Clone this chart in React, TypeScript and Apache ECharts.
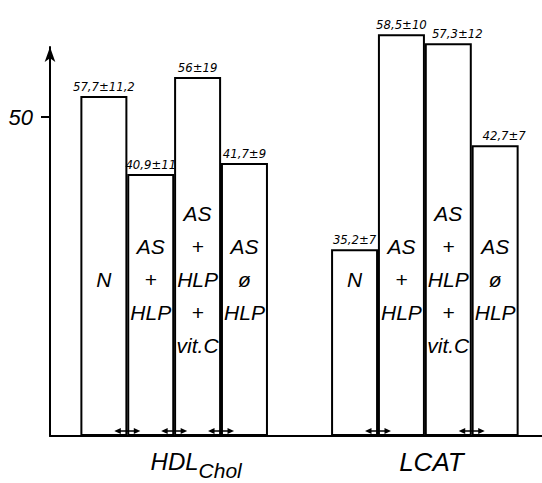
import React, { useEffect, useRef } from "react";
import * as echarts from "echarts";

// ---- data ----
const GROUPS = ["HDL", "LCAT"];
const GROUP_SUB = ["Chol", ""];
const TREATMENTS = ["N", "AS\n+\nHLP", "AS\n+\nHLP\n+\nvit.C", "AS\nø\nHLP"];
// reported mean ± SD (text above each bar)
const HDL_MEAN = [57.7, 40.9, 56, 41.7];
const HDL_SD = [11.2, 11, 19, 9];
const LCAT_MEAN = [35.2, 58.5, 57.3, 42.7];
const LCAT_SD = [7, 10, 12, 7];
const HDL_BAR = [53.3, 41.1, 56.3, 42.8];
const LCAT_BAR = [29.3, 63.0, 61.6, 45.6];
// significance markers: [group index, left bar index]
const SIG_MARKS: [number, number][] = [
  [0, 0],
  [0, 1],
  [0, 2],
  [1, 0],
  [1, 2],
];
const Y_TICKS = [50];

// ---- layout ----
const GROUP_START = [1.15, 6.5];
const GROUP_LABEL_AT = [3.12, 8.14];
const INNER_LABEL_Y = 24.6;
const MARK_Y = 0.8;
const TOP_LABEL_SHIFT = [
  [0, 0, 0, 0],
  [0, 0, 9, 9],
];

const fmt = (v: number) => String(v).replace(".", ",");

export default function App() {
  const ref = useRef<HTMLDivElement>(null);
  useEffect(() => {
    if (!ref.current) return;
    const chart = echarts.init(ref.current, null, { renderer: "svg" });
    const means = [HDL_MEAN, LCAT_MEAN];
    const sds = [HDL_SD, LCAT_SD];
    const heights = [HDL_BAR, LCAT_BAR];

    const barData: any[] = [];
    const textData: any[] = [];
    GROUPS.forEach((_, g) => {
      heights[g].forEach((h, i) => {
        const x = GROUP_START[g] + i;
        barData.push({
          value: [x, h],
          label: {
            formatter: `${fmt(means[g][i])}±${fmt(sds[g][i])}`,
            offset: [TOP_LABEL_SHIFT[g][i], 0],
          },
        });
        textData.push({ value: [x, INNER_LABEL_Y], name: TREATMENTS[i] });
      });
    });
    const markData = SIG_MARKS.map(([g, i]) => [GROUP_START[g] + i + 0.5, MARK_Y]);

    const italic = "'Liberation Sans', Arial, sans-serif";
    const narrow = "'Liberation Sans Narrow', 'DejaVu Sans Condensed', 'Liberation Sans', sans-serif";

    chart.setOption({
      animation: false,
      grid: { left: 50, right: 0, top: 47, bottom: 47, outerBoundsMode: "none" },
      xAxis: {
        type: "value",
        min: 0,
        max: 10.5,
        splitLine: { show: false },
        axisTick: { show: false },
        axisLine: { lineStyle: { color: "#000", width: 2 } },
        axisLabel: {
          customValues: GROUP_LABEL_AT,
          margin: 13,
          formatter: (v: number) =>
            v < 5 ? `{m|${GROUPS[0]}}{s|${GROUP_SUB[0]}}` : `{l|${GROUPS[1]}}`,
          rich: {
            m: { fontSize: 24, fontStyle: "italic", fontFamily: italic, color: "#000", lineHeight: 32, verticalAlign: "top" },
            s: { fontSize: 21, fontStyle: "italic", fontFamily: italic, color: "#000", lineHeight: 32, verticalAlign: "bottom" },
            l: { fontSize: 26, fontStyle: "italic", fontFamily: italic, color: "#000", lineHeight: 26 },
          },
        },
      },
      yAxis: {
        type: "value",
        min: 0,
        max: 61,
        interval: 50,
        splitLine: { show: false },
        axisLine: {
          show: true,
          symbol: ["none", "arrow"],
          symbolSize: [8, 15],
          lineStyle: { color: "#000", width: 2 },
        },
        axisTick: { show: true, customValues: Y_TICKS, length: 9, lineStyle: { color: "#000", width: 2 } },
        axisLabel: {
          customValues: Y_TICKS,
          margin: 17,
          color: "#000",
          fontSize: 22,
          fontStyle: "italic",
          fontFamily: italic,
        },
      },
      series: [
        {
          type: "bar",
          data: barData,
          barWidth: 47,
          clip: false,
          itemStyle: { color: "#fff", borderColor: "#000", borderWidth: 2 },
          label: {
            show: true,
            position: "top",
            distance: 3,
            color: "#000",
            fontSize: 13,
            fontStyle: "italic",
            fontWeight: 500,
            fontFamily: narrow,
          },
          silent: true,
        },
        {
          type: "scatter",
          data: textData,
          symbolSize: 0,
          silent: true,
          itemStyle: { opacity: 1 },
          label: {
            show: true,
            position: "inside",
            formatter: (p: any) => p.name,
            color: "#000",
            opacity: 1,
            fontSize: 21,
            lineHeight: 33,
            fontStyle: "italic",
            fontFamily: italic,
            align: "center",
          },
        },
        {
          type: "scatter",
          data: markData,
          symbol: "path://M0,5 L7,1 L7,4 L21,4 L21,1 L28,5 L21,9 L21,6 L7,6 L7,9 Z",
          symbolSize: [26, 6],
          itemStyle: { color: "#000", opacity: 1 },
          silent: true,
        },
      ],
    });
    return () => chart.dispose();
  }, []);
  return <div ref={ref} style={{ position: "fixed", left: 0, top: 0, width: 542, height: 483, background: "#fff" }} />;
}
